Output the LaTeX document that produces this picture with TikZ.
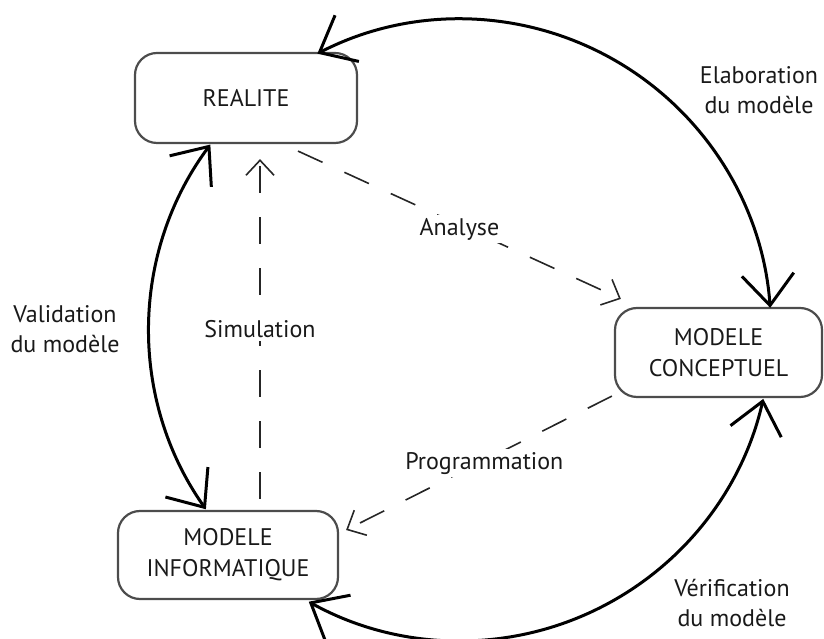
\documentclass[tikz,border=0pt]{standalone}
\usepackage{fontspec}
\setmainfont{PT Sans}
\usetikzlibrary{arrows.meta,calc}
\begin{document}
\begin{tikzpicture}[x=1pt,y=1pt,
  box/.style={draw=black!70, line width=2.2pt, rounded corners=22pt, align=center, inner sep=0pt,
    font=\fontsize{24}{31}\selectfont, text=black!90},
  lbl/.style={align=center, font=\fontsize{24}{30}\selectfont, text=black!90, inner sep=1pt},
  onlbl/.style={lbl, fill=white, inner sep=3pt},
  cyc/.style={line width=3pt, {Straight Barb[length=31pt,width=52pt]}-{Straight Barb[length=31pt,width=52pt]}},
  dsh/.style={line width=1.6pt, black!85, dash pattern=on 27pt off 24pt, -{Straight Barb[length=15pt,width=28pt]}},
]
\useasboundingbox (0,0) rectangle (824,639);
\coordinate (O) at (460,309);
\node[box, minimum width=222pt, minimum height=90pt] (R) at (246,541) {REALITE};
\node[box, minimum width=207pt, minimum height=89pt] (C) at (718.5,286.5) {MODELE\\CONCEPTUEL};
\node[box, minimum width=220pt, minimum height=88pt] (I) at (228,84) {MODELE\\INFORMATIQUE};
% cycle arcs
\coordinate (t1) at ($(O)+(117.3:311)$);
\coordinate (t3) at ($(O)+(-12.8:311)$);
\coordinate (t5) at ($(O)+(-144.8:311)$);
\draw[cyc] (t1) arc[start angle=117.3, end angle=4.1, radius=311pt];
\draw[cyc] (t3) arc[start angle=-12.8, end angle=-119.1, radius=311pt];
\draw[cyc] (t5) arc[start angle=-144.8, end angle=-216.6, radius=311pt];
% dashed arrows
\draw[dsh] ([shift={(52,-7)}]R.south) -- node[onlbl, pos=0.5, yshift=-4pt] {Analyse} ([shift={(7,8)}]C.north west);
\draw[dsh] ([shift={(-2,2)}]C.south west) -- node[onlbl, pos=0.48, yshift=-3pt] {Programmation} ([shift={(7,25)}]I.east);
\draw[dsh] ([shift={(32,11)}]I.north) -- node[onlbl, pos=0.5] {Simulation} ([shift={(14,-15)}]R.south);
% labels
\node[lbl] (le) at (759,549) {Elaboration\\du modèle};
\node[lbl] (lv) at (65,310) {Validation\\du modèle};
\node[lbl] (lw) at (732,35.5) {Vérification\\du modèle};
\end{tikzpicture}
\end{document}
